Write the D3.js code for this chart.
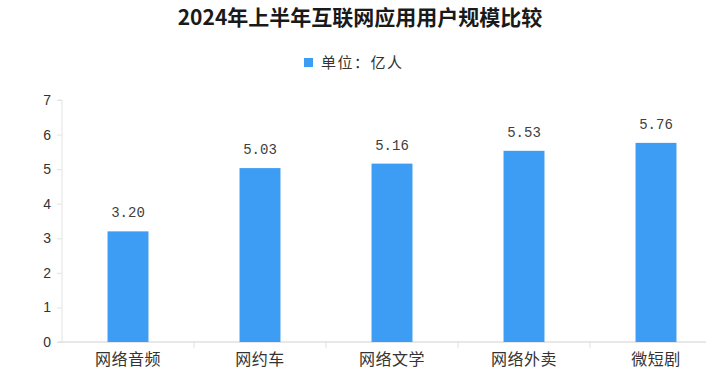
<!DOCTYPE html>
<html>
<head>
<meta charset="utf-8">
<script src="https://cdn.jsdelivr.net/npm/d3@7"></script>
<style>
  body { margin: 0; background: #fff; }
  svg { display: block; }
  .axis text { fill: #333; }
</style>
</head>
<body>
<script>
var categories = ["网络音频", "网约车", "网络文学", "网络外卖", "微短剧"];
var users = [3.20, 5.03, 5.16, 5.53, 5.76];
var yTicks = [0, 1, 2, 3, 4, 5, 6, 7];
var title = "2024年上半年互联网应用用户规模比较";
var legendLabel = "单位：亿人";

var W = 706, H = 377;
var margin = {top: 100, right: -16, bottom: 35, left: 62},
    width = W - margin.left - margin.right,
    height = H - margin.top - margin.bottom;

var barColor = "#3d9cf3";
var cjk = "'Noto Sans CJK SC', 'Noto Sans', sans-serif";

var svg = d3.select("body").append("svg")
  .attr("width", W)
  .attr("height", H);

// 标题
svg.append("text")
  .attr("x", 360)
  .attr("y", 25)
  .attr("text-anchor", "middle")
  .style("font-family", cjk)
  .style("font-size", "21px")
  .style("font-weight", "bold")
  .style("fill", "#1a1a1a")
  .text(title);

// 图例
var legend = svg.append("g").attr("transform", "translate(304,58)");
legend.append("rect")
  .attr("width", 9).attr("height", 9)
  .attr("fill", barColor);
legend.append("text")
  .attr("x", 17).attr("y", 9.5)
  .style("font-family", cjk)
  .style("font-size", "15px")
  .style("letter-spacing", "1.5px")
  .style("fill", "#333")
  .text(legendLabel);

var g = svg.append("g")
  .attr("transform", "translate(" + margin.left + "," + margin.top + ")");

var x = d3.scaleBand()
  .domain(categories)
  .range([0, width])
  .paddingInner(0.69)
  .paddingOuter(0.345);

var y = d3.scaleLinear()
  .domain([0, 7])
  .range([height, 0]);

// 轴
var yAxis = d3.axisLeft(y).tickValues(yTicks).tickFormat(d3.format("d")).tickSize(5).tickPadding(6);
var yg = g.append("g").attr("class", "axis").call(yAxis);
yg.select(".domain").attr("stroke", "#e3e3e3").attr("d", "M0," + height + "V0H-4");
yg.selectAll(".tick line").attr("stroke", "#e3e3e3");
yg.selectAll("text")
  .style("font-family", "'Liberation Sans', sans-serif")
  .style("font-size", "14px");

var xg = g.append("g").attr("class", "axis")
  .attr("transform", "translate(0," + height + ")")
  .call(d3.axisBottom(x).tickSize(0).tickPadding(12));
xg.select(".domain").attr("stroke", "#e0e0e0").attr("stroke-width", 1.5).attr("d", "M-4,0H" + width);
xg.selectAll("text")
  .style("font-family", cjk)
  .style("font-size", "16px")
  .style("letter-spacing", "0.5px");

// 分类之间的刻度
var gap = (x.step() - x.bandwidth()) / 2;
xg.selectAll(".sep")
  .data(categories.slice(1))
  .enter().append("line")
  .attr("class", "sep")
  .attr("x1", function(d){ return x(d) - gap; })
  .attr("x2", function(d){ return x(d) - gap; })
  .attr("y1", 0).attr("y2", 6)
  .attr("stroke", "#e0e0e0");

// 柱子
g.selectAll(".bar")
  .data(users)
  .enter().append("rect")
  .attr("class", "bar")
  .attr("x", function(d, i){ return x(categories[i]); })
  .attr("y", function(d){ return y(d); })
  .attr("width", x.bandwidth())
  .attr("height", function(d){ return height - y(d); })
  .attr("fill", barColor);

// 数值标签
g.selectAll(".label")
  .data(users)
  .enter().append("text")
  .attr("class", "label")
  .attr("x", function(d, i){ return x(categories[i]) + x.bandwidth() / 2; })
  .attr("y", function(d){ return y(d) - 14; })
  .attr("text-anchor", "middle")
  .style("font-family", "'Liberation Mono', monospace")
  .style("font-size", "14px")
  .style("fill", "#404040")
  .text(function(d){ return d.toFixed(2); });
</script>
</body>
</html>
